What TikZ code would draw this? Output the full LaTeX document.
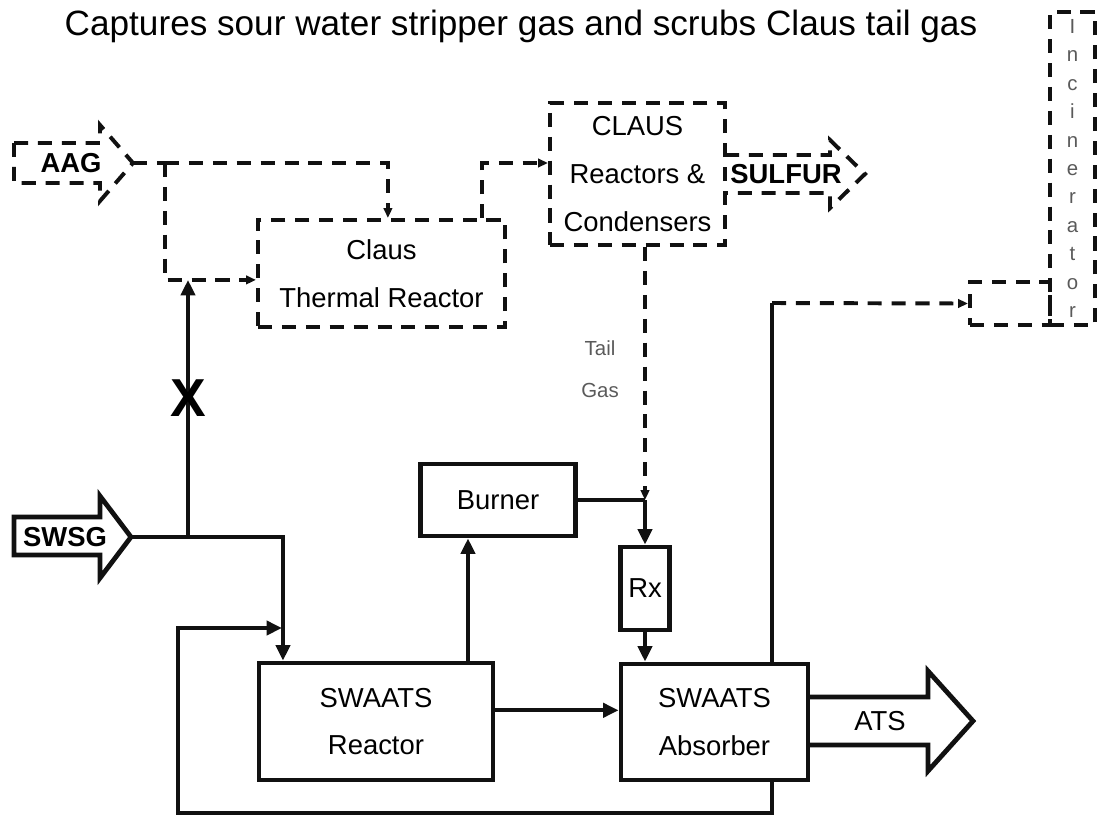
\documentclass[tikz,border=0pt]{standalone}
\usepackage{fontspec}
\setmainfont{Liberation Sans}
\usepackage{tikz}
\usepackage{xcolor}
\usetikzlibrary{arrows.meta,calc}
\definecolor{ink}  {HTML}{111111}
\definecolor{note} {HTML}{5A5A5A}
\tikzset{
  solidline/.style={draw=ink,line width=2.8pt},
  dashline/.style={draw=ink,line width=2.8pt,dash pattern=on 10pt off 7pt},
  unitbox/.style={draw=ink,line width=3.4pt,align=center,inner sep=0pt,
                  font=\fontsize{19.5}{34}\selectfont},
  dashbox/.style={unitbox,line width=2.9pt,dash pattern=on 10pt off 7pt},
  flowtip/.style={-{Triangle[length=11pt,width=10pt]}},
  gastip/.style={-{Triangle[length=7pt,width=6pt]}},
  streamlbl/.style={font=\fontsize{19.5}{20}\selectfont\bfseries,inner sep=0pt},
}

\begin{document}
\begin{tikzpicture}[x=0.025cm,y=-0.025cm]
  \useasboundingbox (0,0) rectangle (1098,818);

  \node[font=\fontsize{25}{30}\selectfont] (title) at (521,26)
    {Captures sour water stripper gas and scrubs Claus tail gas};

  \node[dashbox,minimum width=6.175cm,minimum height=2.675cm] (thermal) at (381.5,273.5)
    {Claus\\Thermal Reactor};
  \node[dashbox,minimum width=4.375cm,minimum height=3.55cm] (claus) at (637.5,174)
    {CLAUS\\Reactors \&\\Condensers};
  \node[dashbox,minimum width=1.125cm,minimum height=7.825cm,
        font=\fontsize{14.5}{20.2}\selectfont,text=note] (incin) at (1072.5,168.5)
    {I\\n\\c\\i\\n\\e\\r\\a\\t\\o\\r};
  \node[dashbox,minimum width=2cm,minimum height=1.075cm] (incbox) at (1010,303.5) {};

  \node[unitbox,minimum width=3.875cm,minimum height=1.8cm] (burner) at (498,500) {Burner};
  \node[unitbox,minimum width=1.225cm,minimum height=2.075cm] (rx) at (645,588.5) {Rx};
  \node[unitbox,minimum width=5.85cm,minimum height=2.925cm] (reactor) at (376,721.5)
    {SWAATS\\Reactor};
  \node[unitbox,minimum width=4.675cm,minimum height=2.9cm] (absorber) at (714.5,722)
    {SWAATS\\Absorber};

  \draw[dashline] (14,143) -- (100,143) -- (100,125) -- (133,163) -- (100,201)
    -- (100,183) -- (14,183) -- cycle;
  \node[streamlbl] (aag) at (71,163) {AAG};
  \draw[dashline] (725,155) -- (830,155) -- (830,140) -- (865,174) -- (830,208)
    -- (830,193) -- (725,193);
  \node[streamlbl] (sulfur) at (786,174) {SULFUR};
  \draw[solidline,line width=3.4pt] (14,517) -- (100,517) -- (100,496) -- (131,537)
    -- (100,578) -- (100,555) -- (14,555) -- cycle;
  \node[streamlbl] (swsg) at (65,537) {SWSG};
  \draw[solidline,line width=3.4pt] (808,697) -- (928,697) -- (928,671) -- (973,721)
    -- (928,771) -- (928,745) -- (808,745);
  \node[font=\fontsize{19.5}{20}\selectfont,inner sep=0pt] (ats) at (880,721) {ATS};

  \coordinate (aagtip) at (133,163);
  \coordinate (aagsplit) at (165,163);
  \coordinate (aagfeed) at ([yshift=-0.16cm]thermal.west);
  \coordinate (thermout) at ([xshift=-0.625cm]thermal.north east);
  \coordinate (tailjoin) at (645,500);
  \coordinate (swsgtip) at (131,537);
  \coordinate (swsgsplit) at (188,537);
  \coordinate (reactorin) at ([xshift=-2.325cm]reactor.north);
  \coordinate (reactorout) at ([yshift=0.28cm]reactor.east);
  \coordinate (burnerin) at ([xshift=-0.75cm]burner.south);
  \coordinate (vent) at (772,303);
  \coordinate (loopbl) at (178,813);
  \coordinate (loopin) at (282,628);

  \draw[dashline] (aagtip) -- (aagsplit);
  \draw[dashline,gastip] (aagsplit) -| ([xshift=0.16cm]thermal.north);
  \draw[dashline,gastip] (aagsplit) |- (aagfeed);
  \draw[dashline,gastip] (thermout) |- ([yshift=0.275cm]claus.west);
  \draw[dashline,gastip] (claus.south -| tailjoin) -- (tailjoin);
  \node[font=\fontsize{14.5}{20}\selectfont,text=note] (taillbl) at (600,348) {Tail};
  \node[font=\fontsize{14.5}{20}\selectfont,text=note] (gaslbl) at (600,390) {Gas};

  \draw[solidline] (burner.east) -- (tailjoin);
  \draw[solidline,flowtip] (tailjoin) -- (rx.north);
  \draw[solidline,flowtip] (rx.south) -- (absorber.north -| rx.south);
  \draw[solidline,flowtip] (reactor.north -| burnerin) -- (burnerin);
  \draw[solidline,flowtip] (reactorout) -- (absorber.west |- reactorout);

  \draw[solidline] (swsgtip) -- (swsgsplit);
  \draw[solidline,flowtip] (swsgsplit) -| (reactorin);
  \draw[solidline,flowtip] (swsgsplit) -- (swsgsplit |- aagfeed);
  \node[font=\fontsize{38}{38}\selectfont\bfseries,inner sep=0pt] (valve) at (188,398) {X};

  \draw[solidline] (absorber.north -| vent) -- (vent);
  \draw[dashline,gastip] (vent) -- (incbox.west);
  \draw[solidline,flowtip] (absorber.south -| vent) |- (loopbl) |- (loopin);
\end{tikzpicture}
\end{document}
